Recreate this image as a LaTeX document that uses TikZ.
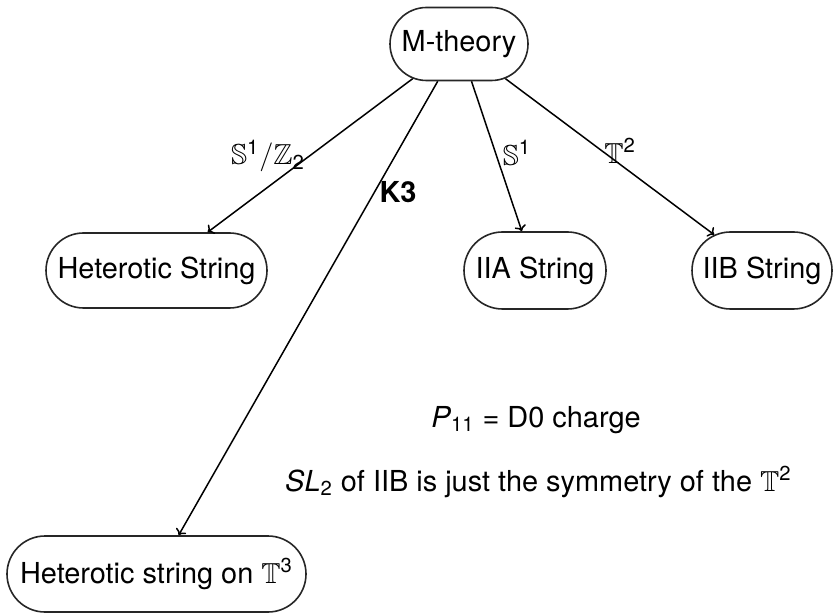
\documentclass[tikz,border=0pt]{standalone}
\usepackage{amsmath,amssymb}
\usepackage{fontspec}
\setmainfont{TeX Gyre Heros}
\usetikzlibrary{shapes.misc,arrows.meta}
\begin{document}
\begin{tikzpicture}[x=0.5pt,y=-0.5pt,
  font=\fontsize{14.45}{17}\selectfont,
  theory/.style={rounded rectangle, draw=black!85, line width=0.8pt, inner sep=0pt, fill=white},
  conn/.style={-{To[length=2.8pt,width=5.8pt]}, line width=0.75pt, black},
  lbl/.style={inner sep=0pt}]
\useasboundingbox (0,0) rectangle (833,613);
\node[theory, minimum width=69pt, minimum height=36.5pt] (m) at (459,44) {M-theory};
\node[theory, minimum width=110.5pt, minimum height=37.5pt] (het) at (156.5,270.5) {Heterotic String};
\node[theory, minimum width=71pt, minimum height=38.5pt] (iia) at (535,270.5) {IIA String};
\node[theory, minimum width=70pt, minimum height=38.5pt] (iib) at (762,270.5) {IIB String};
\node[theory, minimum width=149.5pt, minimum height=38pt] (het3) at (156.5,574) {Heterotic string on $\mathbb{T}^{\text{3}}$};
\draw[conn] (m) -- (het);
\draw[conn] (m) -- (het3);
\draw[conn] (m) -- (iia);
\draw[conn] (m) -- (iib);
\node[lbl] (l1) at (268,156) {$\mathbb{S}^{\text{1}}/\mathbb{Z}_{\text{2}}$};
\node[lbl] (l2) at (398,192) {\bfseries K3};
\node[lbl] (l3) at (517,153) {$\mathbb{S}^{\text{1}}$};
\node[lbl] (l4) at (620,151) {$\mathbb{T}^{\text{2}}$};
\node[lbl] (p11) at (536,420) {\textit{P}\textsubscript{11} = D0 charge};
\node[lbl, anchor=east] (sl2) at (792,482) {\textit{SL}\textsubscript{2} of IIB is just the symmetry of the $\mathbb{T}^{\text{2}}$};
\end{tikzpicture}
\end{document}
